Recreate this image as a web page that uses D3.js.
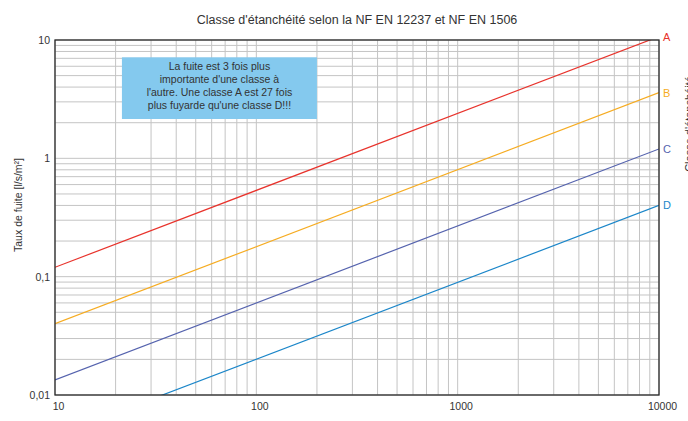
<!DOCTYPE html>
<html><head><meta charset="utf-8">
<script src="https://cdn.jsdelivr.net/npm/d3@7"></script>
<style>
html,body{margin:0;padding:0;background:#fff;overflow:hidden}
text{font-family:"Liberation Sans",Arial,Helvetica,sans-serif}
</style></head>
<body>
<svg id="c" width="688" height="421"></svg>
<script>
// ---- data ----
const classes = ["A", "B", "C", "D"];
const pressure = [10, 10000];            // Pa
const leakA = [0.12, 10.7];               // l/s/m²
const leakB = [0.04, 3.6];
const leakC = [0.0134, 1.2];
const leakD = [0.0045, 0.4];
const classColors = ["#e8332c", "#f6ac22", "#5563ae", "#1b86c9"];
const xTicks = [10, 100, 1000, 10000];
const yTicks = [0.01, 0.1, 1, 10];
const yTickLabels = ["0,01", "0,1", "1", "10"];
const titleText = "Classe d'étanchéité selon la NF EN 12237 et NF EN 1506";
const noteLines = ["La fuite est 3 fois plus", "importante d'une classe à", "l'autre. Une classe A est 27 fois", "plus fuyarde qu'une classe D!!!"];

const series = [leakA, leakB, leakC, leakD];

const svg = d3.select("#c");
const m = {l: 55, r: 659, t: 40, b: 395};
const x = d3.scaleLog().domain([10, 10000]).range([m.l, m.r]);
const y = d3.scaleLog().domain([0.01, 10]).range([m.b, m.t]);

// grid
const g = svg.append("g");
g.selectAll(".vx").data(x.ticks()).join("line")
  .attr("x1", d => x(d)).attr("x2", d => x(d)).attr("y1", m.t).attr("y2", m.b)
  .attr("stroke", "#c4c4c4").attr("stroke-width", 1);
g.selectAll(".hy").data(y.ticks()).join("line")
  .attr("y1", d => y(d)).attr("y2", d => y(d)).attr("x1", m.l).attr("x2", m.r)
  .attr("stroke", "#c4c4c4").attr("stroke-width", 1);

// note box
const bx = x(21.5), bx2 = x(200), by = y(7.14), by2 = y(2.15);
svg.append("rect").attr("x", bx).attr("y", by).attr("width", bx2 - bx).attr("height", by2 - by)
  .attr("fill", "#84c9ee");
svg.append("g").selectAll("text").data(noteLines).join("text")
  .attr("x", (bx + bx2) / 2).attr("y", (d, i) => by + 12.5 + i * 13)
  .attr("text-anchor", "middle").attr("font-size", 10.5).attr("fill", "#333")
  .text(d => d);

// lines
svg.append("clipPath").attr("id", "clip").append("rect")
  .attr("x", m.l).attr("y", m.t).attr("width", m.r - m.l).attr("height", m.b - m.t);
const line = d3.line().x(d => x(d[0])).y(d => y(d[1]));
svg.append("g").attr("clip-path", "url(#clip)").selectAll("path").data(series).join("path")
  .attr("d", s => line(pressure.map((p, i) => [p, s[i]])))
  .attr("fill", "none").attr("stroke", (d, i) => classColors[i]).attr("stroke-width", 1.2);

// class labels
svg.append("g").selectAll("text").data(classes).join("text")
  .attr("x", m.r + 4)
  .attr("y", (d, i) => Math.max(y(series[i][1]), m.t - 3) + 4)
  .attr("font-size", 11).attr("fill", (d, i) => classColors[i])
  .text(d => d);

// frame
svg.append("rect").attr("x", m.l).attr("y", m.t).attr("width", m.r - m.l).attr("height", m.b - m.t)
  .attr("fill", "none").attr("stroke", "#2a2a2a").attr("stroke-width", 1.3);

// axes
const xAxis = d3.axisBottom(x).tickValues(xTicks).tickSize(0).tickPadding(8).tickFormat(d3.format("d"));
const xa = svg.append("g").attr("transform", `translate(3,${m.b})`).call(xAxis);
const yAxis = d3.axisLeft(y).tickValues(yTicks).tickSize(0).tickPadding(5)
  .tickFormat((d, i) => yTickLabels[i]);
const ya = svg.append("g").attr("transform", `translate(${m.l},0)`).call(yAxis);
[xa, ya].forEach(a => {
  a.select(".domain").remove();
  a.selectAll("text").attr("font-size", 10.5).attr("fill", "#333")
    .attr("font-family", '"Liberation Sans",Arial,sans-serif');
});

// titles
svg.append("text").attr("x", 357).attr("y", 24).attr("text-anchor", "middle")
  .attr("font-size", 12.5).attr("fill", "#333").text(titleText);
svg.append("text").attr("transform", "translate(22,205) rotate(-90)").attr("text-anchor", "middle")
  .attr("font-size", 10.5).attr("fill", "#333").text("Taux de fuite [l/s/m²]");
svg.append("text").attr("x", 364).attr("y", 429).attr("text-anchor", "middle")
  .attr("font-size", 11).attr("fill", "#333").text("Pression [Pa]");
svg.append("text").attr("transform", "translate(693,124) rotate(-90)").attr("text-anchor", "middle")
  .attr("font-size", 11).attr("fill", "#333").text("Classe d'étanchéité");
</script>
</body></html>
